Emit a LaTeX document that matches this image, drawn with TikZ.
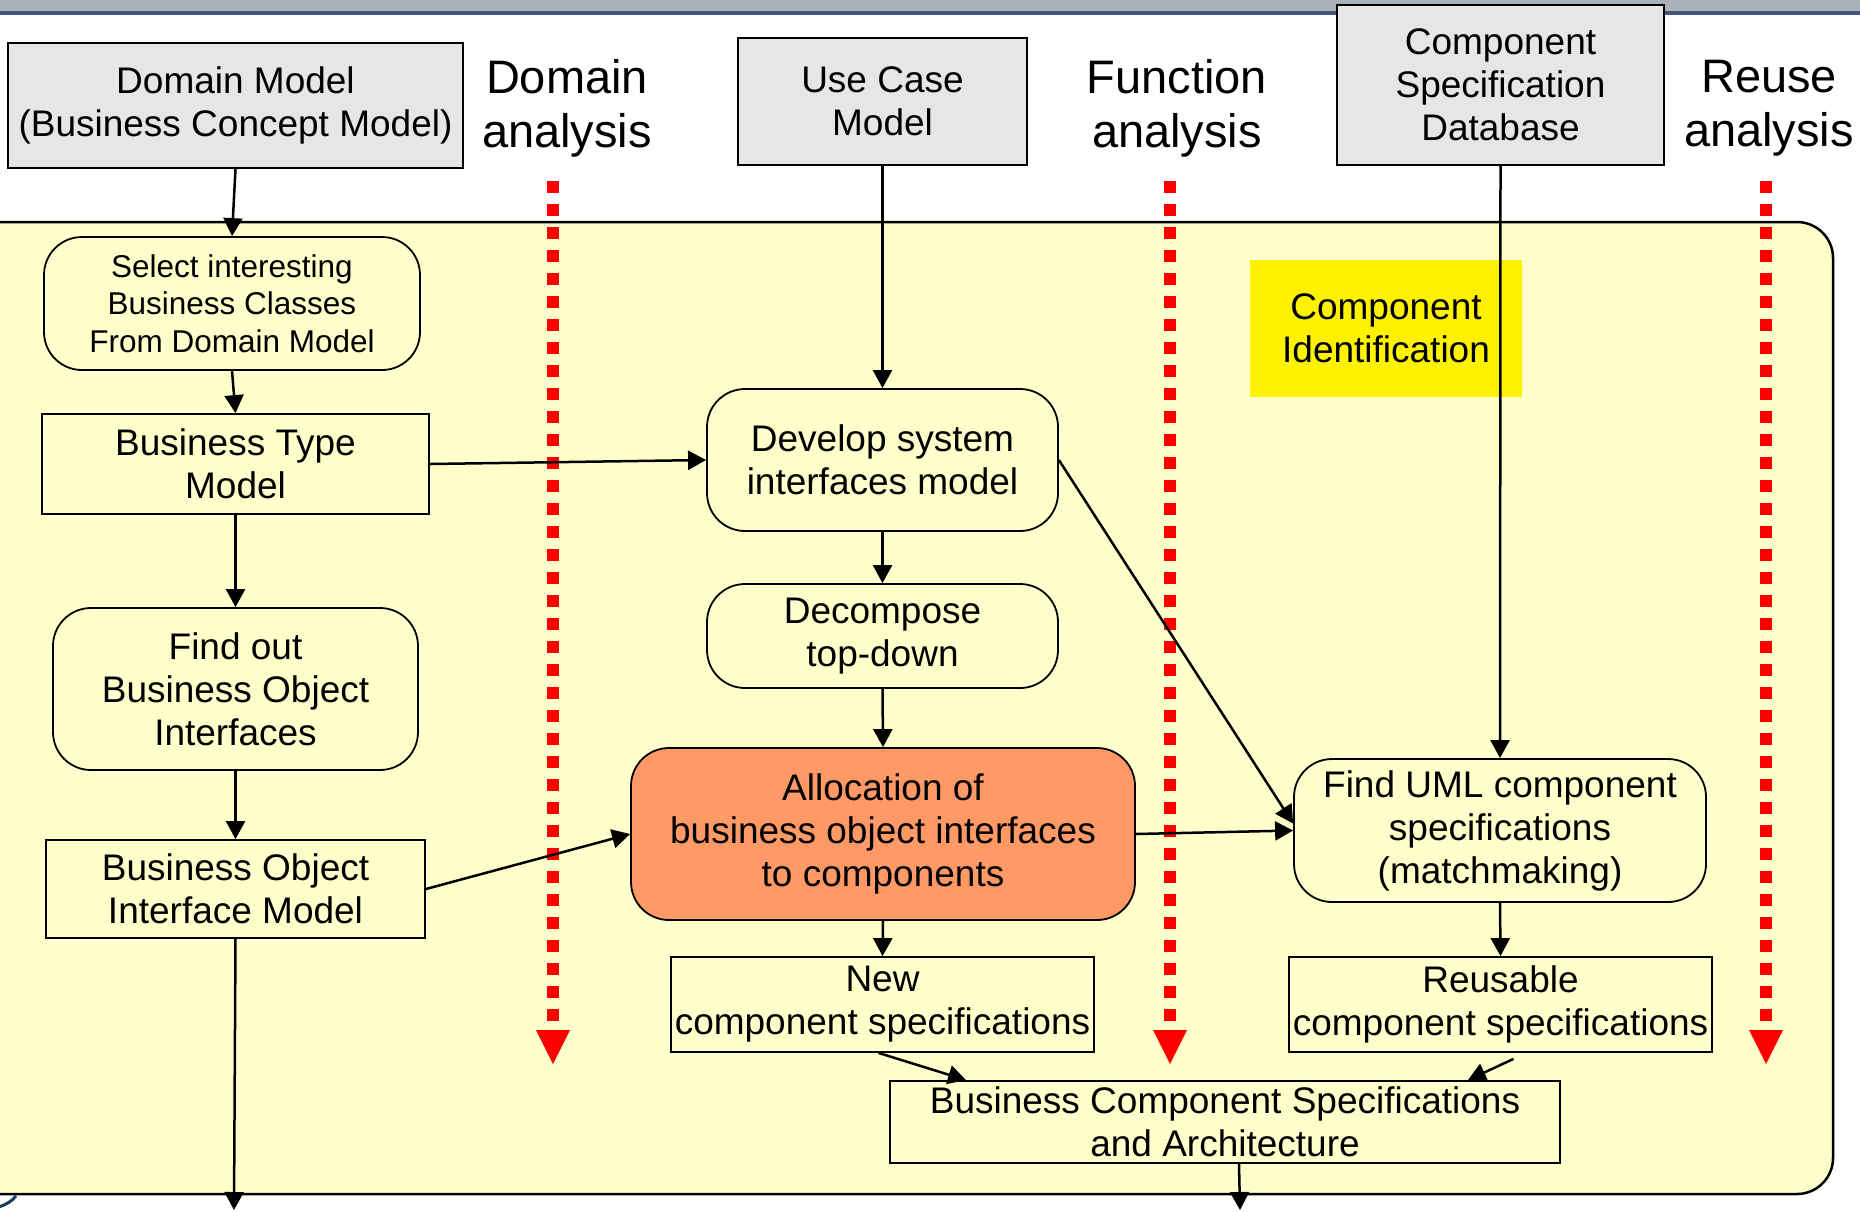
\documentclass[tikz,border=0pt]{standalone}
\usepackage{fontspec}
\setmainfont{Liberation Sans}
\usetikzlibrary{arrows.meta,calc}

\definecolor{panelyellow}{HTML}{FFFFCC}
\definecolor{boxgray}{HTML}{E6E6E6}
\definecolor{allocorange}{HTML}{FF9966}
\definecolor{bannergray}{HTML}{AAB2B8}
\definecolor{bannerblue}{HTML}{44547A}
\definecolor{logonavy}{HTML}{1F3864}

\tikzset{
  boxtext/.style={font=\fontsize{37}{43}\selectfont},
  boxsize/.style 2 args={minimum width=#1pt, minimum height=#2pt},
  plainbox/.style={draw, line width=1.8pt, fill=panelyellow, inner sep=0pt,
    align=center, boxtext},
  roundbox/.style={plainbox, rounded corners=38pt},
  graybox/.style={plainbox, fill=boxgray},
  lanelabel/.style={align=center, inner sep=0pt, font=\fontsize{47}{54}\selectfont},
  conn/.style={line width=2.5pt, -{Triangle[length=18pt,width=19pt]}},
  laneline/.style={red, line width=11.6pt, dash pattern=on 11.6pt off 11.4pt}
}

\begin{document}
\begin{tikzpicture}[x=1pt, y=-1pt]
\useasboundingbox (0,0) rectangle (1860,1211);
\clip (0,0) rectangle (1860,1211);

% slide banner strip
\fill[bannergray] (0,0) rectangle (1860,11);
\fill[bannerblue] (0,11) rectangle (1860,15);

% background panel of the identification stage
\draw[line width=2.5pt, fill=panelyellow, rounded corners=36pt]
  (-60,222) rectangle (1833,1194);

% logo fragment, lower left
\draw[logonavy, line width=3pt] (-2,1207) .. controls (6,1205) and (12,1201) .. (16,1196);

% analysis lanes
\foreach \lx in {553,1170,1766} {
  \draw[laneline] (\lx,181) -- (\lx,1027);
  \fill[red] (\lx-17,1030) -- (\lx+17,1030) -- (\lx,1064) -- cycle;
}

% lane headings
\node[lanelabel] (lblDomain) at (567,108) {Domain\\analysis};
\node[lanelabel] (lblFunction) at (1177,108) {Function\\analysis};
\node[lanelabel] (lblReuse) at (1769,108) {Reuse\\analysis};

% input models
\node[graybox, boxsize={455}{125}] (dm) at (235.5,105.5)
  {Domain Model\\(Business Concept Model)};
\node[graybox, boxsize={289}{127}] (uc) at (882.5,101.5) {Use Case\\Model};
\node[graybox, boxsize={327}{160}] (csd) at (1500.5,85)
  {Component\\Specification\\Database};

% domain analysis column
\node[roundbox, boxsize={376}{133}, font=\fontsize{31.5}{37.5}\selectfont] (sel) at (232,303.5)
  {Select interesting\\Business Classes\\From Domain Model};
\node[plainbox, boxsize={387}{100}] (btm) at (235.5,464) {Business Type\\Model};
\node[roundbox, boxsize={365}{162}] (fbo) at (235.5,689)
  {Find out\\Business Object\\Interfaces};
\node[plainbox, boxsize={379}{98}] (bom) at (235.5,889)
  {Business Object\\Interface Model};

% function analysis column
\node[roundbox, boxsize={351}{142}] (dev) at (882.5,460)
  {Develop system\\interfaces model};
\node[roundbox, boxsize={351}{104}] (dec) at (882.5,636) {Decompose\\top-down};
\node[roundbox, fill=allocorange, boxsize={504}{172}] (alloc) at (883,834)
  {Allocation of\\business object interfaces\\to components};
\node[plainbox, boxsize={423}{95}] (new) at (882.5,1004.5)
  {New\\component specifications};

% reuse analysis column
\node[fill=yellow, inner sep=0pt, align=center, boxtext, boxsize={272}{137}] (ci)
  at (1386,328.5) {Component\\Identification};
\node[roundbox, boxsize={412}{143}] (uml) at (1500,830.5)
  {Find UML component\\specifications\\(matchmaking)};
\node[plainbox, boxsize={423}{95}] (reu) at (1500.5,1004.5)
  {Reusable\\component specifications};

% result
\node[plainbox, boxsize={670}{82}] (bcs) at (1225,1122)
  {Business Component Specifications\\and Architecture};

% outgoing ends
\coordinate (outL) at (234,1210);
\coordinate (outR) at (1240,1210);

% connectors
\draw[conn] (dm.south) -- (sel.north);
\draw[conn] (sel.south) -- (btm.north);
\draw[conn] (btm.east) -- (dev.west);
\draw[conn] (btm.south) -- (fbo.north);
\draw[conn] (fbo.south) -- (bom.north);
\draw[conn] (bom.east) -- (alloc.west);
\draw[conn] (bom.south) -- (outL);
\draw[conn] (uc.south) -- (dev.north);
\draw[conn] (dev.south) -- (dec.north);
\draw[conn] (dec.south) -- (alloc.north);
\draw[conn] (dev.east) -- ([yshift=7pt]uml.west);
\draw[conn] (alloc.east) -- (uml.west);
\draw[conn] (csd.south) -- (uml.north);
\draw[conn] (alloc.south) -- (new.north);
\draw[conn] (uml.south) -- (reu.north);
\draw[conn] ([xshift=-4pt]new.south) -- ([xshift=77pt]bcs.north west);
\draw[conn] ([xshift=13pt,yshift=-6pt]reu.south) -- ([xshift=-93pt]bcs.north east);
\draw[conn] ([xshift=14pt]bcs.south) -- (outR);
\end{tikzpicture}
\end{document}
